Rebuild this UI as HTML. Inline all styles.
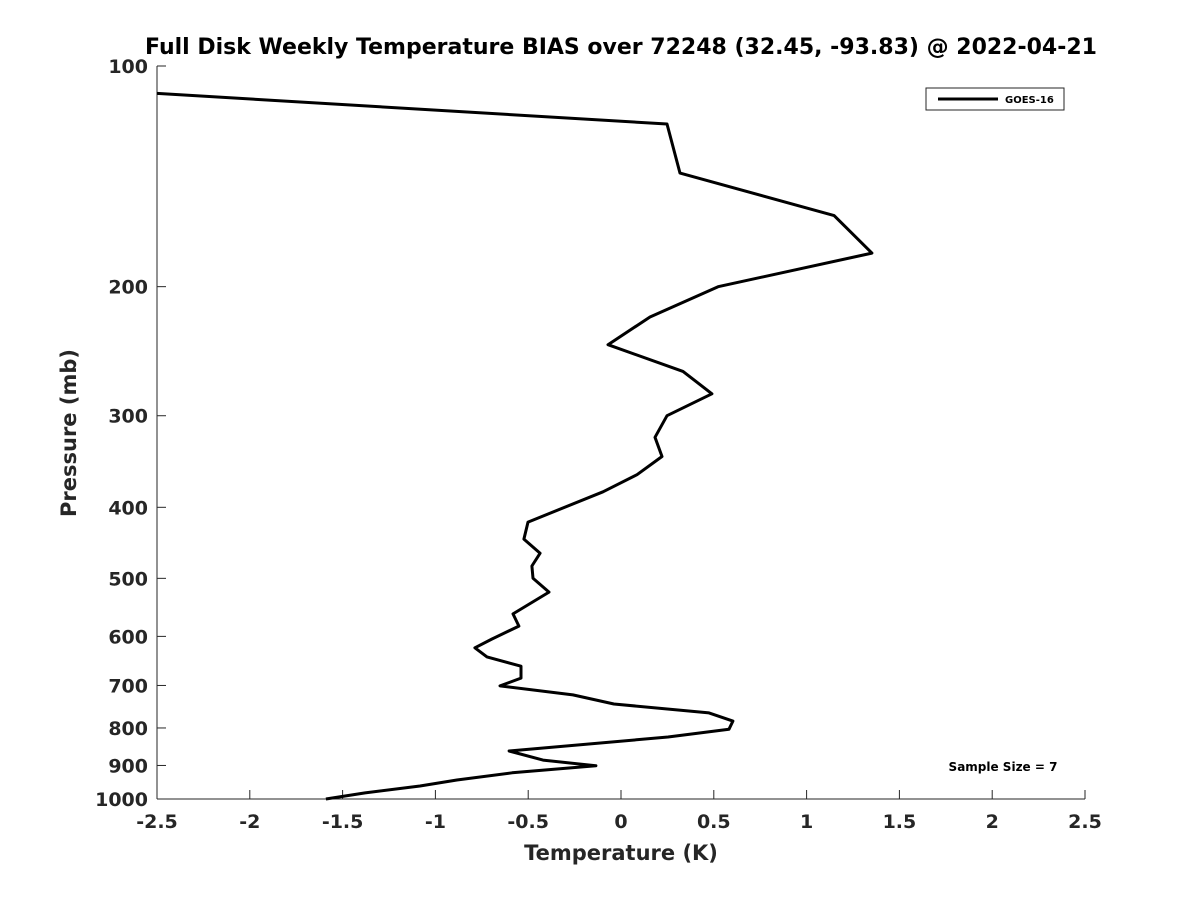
<!DOCTYPE html>
<html><head><meta charset="utf-8"><style>
body{margin:0;background:#fff;}
svg text{font-family:"DejaVu Sans","Liberation Sans",sans-serif;font-weight:bold;fill:#262626;}
</style></head><body>
<svg id="chart" width="1200" height="900" xmlns="http://www.w3.org/2000/svg">
<rect width="1200" height="900" fill="#fff"/>
<text x="621" y="54" text-anchor="middle" font-size="22" style="fill:#000">Full Disk Weekly Temperature BIAS over 72248 (32.45, -93.83) @ 2022-04-21</text>
<g id="xaxis"></g>
<g id="yaxis"></g>
<text x="621" y="860" text-anchor="middle" font-size="21">Temperature (K)</text>
<text transform="translate(76,433) rotate(-90)" text-anchor="middle" font-size="21">Pressure (mb)</text>
<path id="series" fill="none" stroke="#000" stroke-width="3" stroke-linejoin="round"/>
<g>
<rect x="926" y="88" width="138" height="22" fill="#fff" stroke="#262626" stroke-width="1"/>
<line x1="938" y1="99" x2="998" y2="99" stroke="#000" stroke-width="3"/>
<text x="1005" y="103" font-size="10" style="fill:#000">GOES-16</text>
</g>
<text x="1003" y="771" text-anchor="middle" font-size="12" style="fill:#000">Sample Size = 7</text>
</svg>
<script>
const temps=[-2.5,0.248,0.318,1.148,1.352,0.523,0.156,-0.07,0.334,0.49,0.248,0.183,0.221,0.086,-0.097,-0.501,-0.523,-0.436,-0.48,-0.474,-0.388,-0.582,-0.55,-0.695,-0.787,-0.722,-0.539,-0.539,-0.652,-0.259,-0.038,0.474,0.603,0.582,0.253,-0.603,-0.42,-0.135,-0.587,-0.884,-1.083,-1.379,-1.59];
const pressures=[109,120,140,160,180,200,220,240,261,280,300,321,341,361,381,419,442,462,481,500,522,559,581,605,622,640,659,684,701,721,742,763,783,803,823,860,885,901,921,942,960,981,1000];
const xTicks=[-2.5,-2,-1.5,-1,-0.5,0,0.5,1,1.5,2,2.5];
const xTickLabels=["-2.5","-2","-1.5","-1","-0.5","0","0.5","1","1.5","2","2.5"];
const yTicks=[100,200,300,400,500,600,700,800,900,1000];
const yTickLabels=["100","200","300","400","500","600","700","800","900","1000"];
const L=157,R=1085,T=66,B=799;
const xs=v=>L+(v+2.5)/5*(R-L);
const ys=p=>T+(Math.log10(p)-2)*(B-T);
const NS="http://www.w3.org/2000/svg";
function mk(tag,attrs,parent){const e=document.createElementNS(NS,tag);for(const k in attrs)e.setAttribute(k,attrs[k]);parent.appendChild(e);return e;}
const xa=document.getElementById('xaxis'),ya=document.getElementById('yaxis');
const xl=mk('line',{x1:L,y1:B,x2:R,y2:B,stroke:'#262626','stroke-width':1},xa);


const yl=mk('line',{x1:L,y1:T,x2:L,y2:B,stroke:'#262626','stroke-width':1},ya);


xTicks.forEach((v,i)=>{
 const t=mk('line',{x1:xs(v),y1:B,x2:xs(v),y2:B-9,stroke:'#262626'},xa);
 
 
 const tx=mk('text',{x:xs(v),y:B+29,'text-anchor':'middle','font-size':19},xa);
 tx.textContent=xTickLabels[i];
 
 
});
yTicks.forEach((p,i)=>{
 const t=mk('line',{x1:L,y1:ys(p),x2:L+9,y2:ys(p),stroke:'#262626'},ya);
 
 
 const tx=mk('text',{x:L-9,y:ys(p)+7,'text-anchor':'end','font-size':19},ya);
 tx.textContent=yTickLabels[i];
 
 
});
document.getElementById('series').setAttribute('d',temps.map((t,i)=>(i?'L':'M')+xs(t).toFixed(1)+','+ys(pressures[i]).toFixed(1)).join(' '));
</script>
</body></html>
